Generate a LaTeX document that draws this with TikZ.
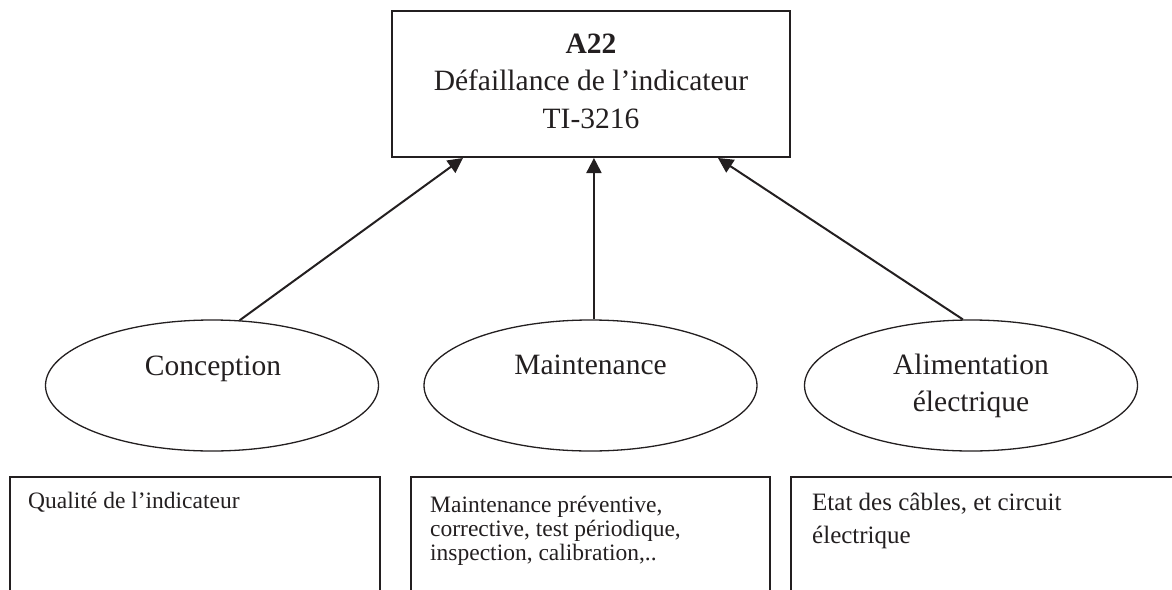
\documentclass[tikz,border=0pt]{standalone}
\usepackage{fontspec}
\setmainfont{Liberation Serif}
\usetikzlibrary{shapes.geometric,arrows.meta}
\definecolor{ink}{RGB}{35,31,32}
\begin{document}
\begin{tikzpicture}[x=1pt,y=-1pt,
  box/.style={draw=ink,line width=2pt,rectangle,inner sep=0pt},
  oval/.style={draw=ink,line width=1.3pt,ellipse,inner sep=0pt,
               minimum width=333pt,minimum height=131pt},
  big/.style={text=ink,font=\fontsize{29.5}{36}\selectfont,inner sep=0pt},
  small/.style={text=ink,font=\fontsize{23.5}{25}\selectfont,inner sep=0pt},
  conn/.style={draw=ink,line width=2pt,-{Triangle[length=15pt,width=15pt]}}]
\useasboundingbox (0,0) rectangle (1172,589);
\clip (0,0) rectangle (1172,589);

% top event
\node[box,minimum width=398pt,minimum height=146pt] (top) at (591,84) {};
\node[big,anchor=base,font=\fontsize{29.5}{36}\selectfont\bfseries] (code) at (591,53) {A22};
\node[big,anchor=base] (title) at (591,90) {Défaillance de l’indicateur};
\node[big,anchor=base] (tag) at (591,128) {TI-3216};

% causes
\node[oval] (e1) at (212,385.5) {};
\node[oval] (e2) at (590.5,385.5) {};
\node[oval] (e3) at (971,385.5) {};
\node[big,anchor=base] (c1) at (213,375) {Conception};
\node[big,anchor=base] (c2) at (590.5,374) {Maintenance};
\node[big,anchor=base] (c3a) at (971,374) {Alimentation};
\node[big,anchor=base] (c3b) at (971,411) {électrique};

% links to the top event
\coordinate (inL) at ([xshift=-128pt]top.south);
\coordinate (inR) at ([xshift=127pt]top.south);
\draw[conn] (e1.67.5) -- (inL);
\draw[conn] (e2.87) -- (e2.87 |- top.south);
\draw[conn] (e3.97) -- (inR);

% detail boxes
\node[box,anchor=north west,minimum width=370pt,minimum height=160pt] (b1) at (9,476) {};
\node[box,anchor=north west,minimum width=359pt,minimum height=160pt] (b2) at (410,476) {};
\node[box,anchor=north west,minimum width=420pt,minimum height=160pt] (b3) at (790,476) {};

\node[small,anchor=base west] (q1) at (28,508) {Qualité de l’indicateur};
\node[small,anchor=base west] (m1) at (430,512) {Maintenance préventive,};
\node[small,anchor=base west] (m2) at (430,536.5) {corrective, test périodique,};
\node[small,anchor=base west] (m3) at (430,560.5) {inspection, calibration,..};
\node[small,anchor=base west,font=\fontsize{25}{33}\selectfont] (r1) at (812,510) {Etat des câbles, et circuit};
\node[small,anchor=base west,font=\fontsize{25}{33}\selectfont] (r2) at (812,543) {électrique};
\end{tikzpicture}
\end{document}
